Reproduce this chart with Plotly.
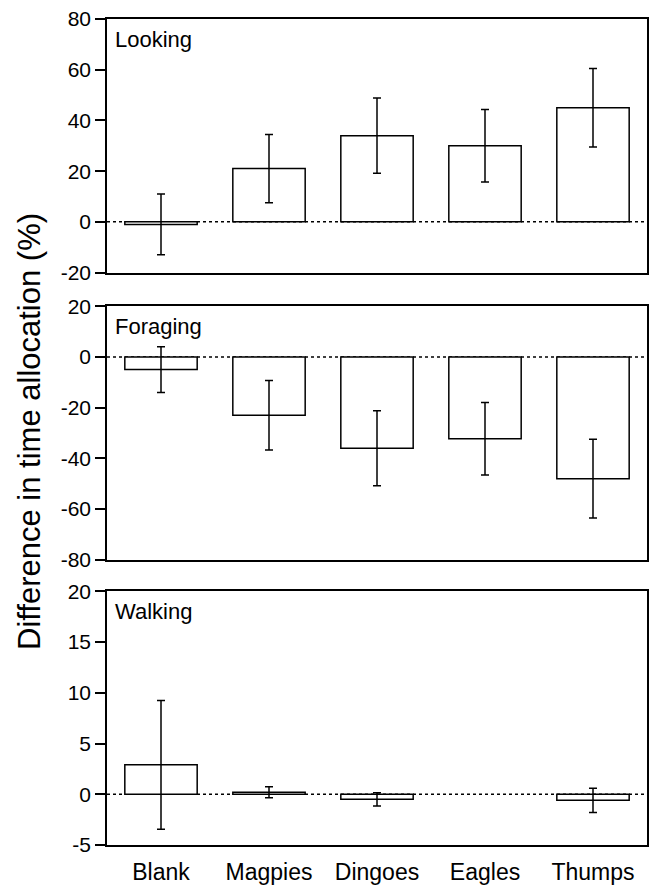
import plotly.graph_objects as go
from plotly.subplots import make_subplots

categories = ["Blank", "Magpies", "Dingoes", "Eagles", "Thumps"]

looking = [-1.0, 21.0, 34.0, 30.0, 45.0]
looking_err = [12.0, 13.5, 14.8, 14.3, 15.5]

foraging = [-5.0, -23.0, -36.0, -32.3, -48.0]
foraging_err = [9.0, 13.7, 14.8, 14.3, 15.5]

walking = [2.9, 0.2, -0.5, None, -0.6]
walking_err = [6.35, 0.55, 0.65, None, 1.2]

panel_names = ["Looking", "Foraging", "Walking"]
panel_ranges = [[-20, 80], [-80, 20], [-5, 20]]

looking_ticks = [-20, 0, 20, 40, 60, 80]
foraging_ticks = [-80, -60, -40, -20, 0, 20]
walking_ticks = [-5, 0, 5, 10, 15, 20]
looking_ticktext = ["-20", "0", "20", "40", "60", "80"]
foraging_ticktext = ["-80", "-60", "-40", "-20", "0", "20"]
walking_ticktext = ["-5", "0", "5", "10", "15", "20"]

tick_sets = [(looking_ticks, looking_ticktext),
             (foraging_ticks, foraging_ticktext),
             (walking_ticks, walking_ticktext)]

FONT = "Liberation Sans, Arial, Helvetica, sans-serif"

fig = make_subplots(rows=3, cols=1, shared_xaxes=True, vertical_spacing=0.0)

series = [(looking, looking_err), (foraging, foraging_err), (walking, walking_err)]
for i, (vals, errs) in enumerate(series, start=1):
    fig.add_trace(
        go.Bar(
            x=categories,
            y=vals,
            width=0.67,
            marker=dict(color="white", line=dict(color="black", width=1.5)),
            error_y=dict(type="data", array=errs, visible=True,
                         color="black", thickness=1.5, width=4),
            showlegend=False,
        ),
        row=i, col=1,
    )

domains = [[0.6930, 1.0], [0.3453, 0.6523], [0.0, 0.3070]]
for i in range(3):
    yname = "yaxis" if i == 0 else f"yaxis{i+1}"
    xname = "xaxis" if i == 0 else f"xaxis{i+1}"
    tv, tt = tick_sets[i]
    fig.layout[yname].update(
        domain=domains[i],
        range=panel_ranges[i],
        tickmode="array",
        tickvals=tv,
        ticktext=tt,
        showgrid=False,
        zeroline=False,
        showline=True,
        linecolor="black",
        linewidth=1.5,
        mirror=True,
        ticks="outside",
        ticklen=10,
        tickwidth=1.5,
        tickcolor="black",
        tickfont=dict(family=FONT, size=21, color="black"),
    )
    fig.layout[xname].update(
        showgrid=False,
        zeroline=False,
        showline=True,
        linecolor="black",
        linewidth=1.5,
        mirror=True,
        ticks="outside",
        ticklen=6,
        tickcolor="rgba(0,0,0,0)",
        showticklabels=(i == 2),
        tickfont=dict(family=FONT, size=23, color="black"),
    )
    xref = "x" if i == 0 else f"x{i+1}"
    yref = "y" if i == 0 else f"y{i+1}"
    fig.add_shape(
        type="line", xref=f"{xref} domain", yref=yref,
        x0=0, x1=1, y0=0, y1=0,
        line=dict(color="black", width=1.5, dash="dot"),
        layer="below",
    )
    fig.add_annotation(
        text=panel_names[i], xref=f"{xref} domain", yref=f"{yref} domain",
        x=0, y=1, xanchor="left", yanchor="top", xshift=6, yshift=-6,
        showarrow=False, font=dict(family=FONT, size=22, color="black"),
    )

fig.add_annotation(
    text="Difference in time allocation (%)",
    xref="paper", yref="paper", x=0, y=0.5,
    xanchor="center", yanchor="middle", xshift=-78,
    textangle=-90, showarrow=False,
    font=dict(family=FONT, size=31, color="black"),
)

fig.update_layout(
    width=652, height=888,
    margin=dict(l=107, r=3, t=19, b=35),
    plot_bgcolor="white",
    paper_bgcolor="white",
    bargap=0.33,
)

fig.write_html(
    "out.html",
    config={"displayModeBar": False},
    post_script="document.body.style.margin='0';document.body.style.overflow='hidden';",
)
